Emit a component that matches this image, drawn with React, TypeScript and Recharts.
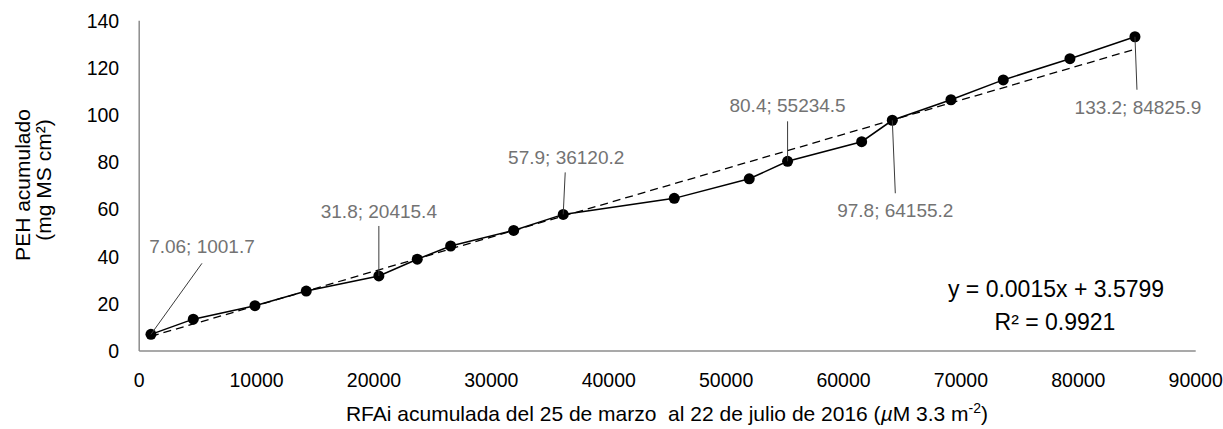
import React from 'react';
import { ComposedChart, Line, XAxis, YAxis, ReferenceLine, LabelList } from 'recharts';

// accumulated RFAi (x) and accumulated PEH (y)
const rfai = [
  1001.7, 4605, 9861, 14231, 20415.4, 23687, 26532, 31899, 36120.2, 45580, 51968, 55234.5, 61544, 64155.2,
  69151, 73606, 79287, 84825.9,
];
const peh = [7.06, 13.5, 19.2, 25.4, 31.8, 38.9, 44.5, 51.1, 57.9, 64.7, 73.0, 80.4, 88.7, 97.8, 106.5, 114.9, 123.9, 133.2];

const xTicks = [0, 10000, 20000, 30000, 40000, 50000, 60000, 70000, 80000, 90000];
const yTicks = [0, 20, 40, 60, 80, 100, 120, 140];

// linear trendline end points as drawn
const trendX = [1001.7, 84825.9];
const trendY = [6.2, 127.9];

const equationLines = ['y = 0.0015x + 3.5799', 'R² = 0.9921'];
const labelledIdx = [0, 4, 8, 11, 13, 17];

// leader line end / label centre offsets in px from the point
const callouts: Record<number, { lx: number; ly: number; tx: number; ty: number }> = {
  0: { lx: 51, ly: -71, tx: 51, ty: -88 },
  4: { lx: 0, ly: -50, tx: 0, ty: -64 },
  8: { lx: 2, ly: -42, tx: 3, ty: -57 },
  11: { lx: 0, ly: -40, tx: 0, ty: -56 },
  13: { lx: 3, ly: 73, tx: 3, ty: 90 },
  17: { lx: 2, ly: 53, tx: 3, ty: 71 },
};

const FONT = '"Liberation Sans", Arial, sans-serif';
const AXIS = '#8c8c8c';

const data = rfai.map((x, i) => ({ x, y: peh[i] }));

const Callout = (props: any) => {
  const { x, y, index } = props;
  if (!labelledIdx.includes(index)) return null;
  const c = callouts[index];
  return (
    <g>
      <line x1={x} y1={y} x2={x + c.lx} y2={y + c.ly} stroke="#3a3a3a" strokeWidth={1} />
      <text
        x={x + c.tx}
        y={y + c.ty}
        textAnchor="middle"
        dominantBaseline="central"
        fontSize={19}
        fontFamily={FONT}
        fill="#737373"
      >
        {`${peh[index]}; ${rfai[index]}`}
      </text>
    </g>
  );
};

export default function App() {
  return (
    <div style={{ position: 'absolute', left: 0, top: 0 }}>
      <ComposedChart width={1223} height={429} data={data} margin={{ top: 20.7, right: 27.3, left: 59.2, bottom: 28 }}>
        <XAxis
          type="number"
          dataKey="x"
          domain={[0, 90000]}
          ticks={xTicks}
          interval={0}
          tickLine={false}
          tickSize={0}
          tickMargin={22}
          height={50}
          axisLine={{ stroke: AXIS, strokeWidth: 1.5 }}
          tick={{ fill: '#000', fontSize: 19.5, fontFamily: FONT }}
        />
        <YAxis
          type="number"
          domain={[0, 140]}
          ticks={yTicks}
          interval={0}
          tickLine={false}
          tickSize={0}
          tickMargin={20}
          width={80}
          axisLine={{ stroke: AXIS, strokeWidth: 1.5 }}
          tick={{ fill: '#000', fontSize: 19.5, fontFamily: FONT }}
        />
        <ReferenceLine
          segment={[
            { x: trendX[0], y: trendY[0] },
            { x: trendX[1], y: trendY[1] },
          ]}
          stroke="#000"
          strokeWidth={1.3}
          strokeDasharray="8 5"
        />
        <Line
          dataKey="y"
          stroke="#000"
          strokeWidth={1.5}
          dot={{ r: 5.5, fill: '#000', stroke: '#000', strokeWidth: 0 }}
          activeDot={false}
          isAnimationActive={false}
        >
          <LabelList dataKey="y" content={Callout} />
        </Line>
        <text x={1056} y={297} textAnchor="middle" fontSize={23} fontFamily={FONT} fill="#000">
          {equationLines[0]}
        </text>
        <text x={1055} y={330} textAnchor="middle" fontSize={23} fontFamily={FONT} fill="#000">
          {equationLines[1]}
        </text>
        <text x={667} y={421} textAnchor="middle" fontSize={21} fontFamily={FONT} fill="#000">
          {'RFAi acumulada del 25 de marzo\u00A0 al 22 de julio de 2016 ('}
          <tspan fontStyle="italic">µ</tspan>
          {'M 3.3 m'}
          <tspan dy={-8} fontSize={14}>-2</tspan>
          <tspan dy={8}>)</tspan>
        </text>
        <g transform="rotate(-90 22 185)">
          <text x={22} y={185} textAnchor="middle" dominantBaseline="central" fontSize={21} fontFamily={FONT} fill="#000">
            PEH acumulado
          </text>
        </g>
        <g transform="rotate(-90 43 180)">
          <text x={43} y={180} textAnchor="middle" dominantBaseline="central" fontSize={21} fontFamily={FONT} fill="#000">
            (mg MS cm²)
          </text>
        </g>
      </ComposedChart>
    </div>
  );
}
